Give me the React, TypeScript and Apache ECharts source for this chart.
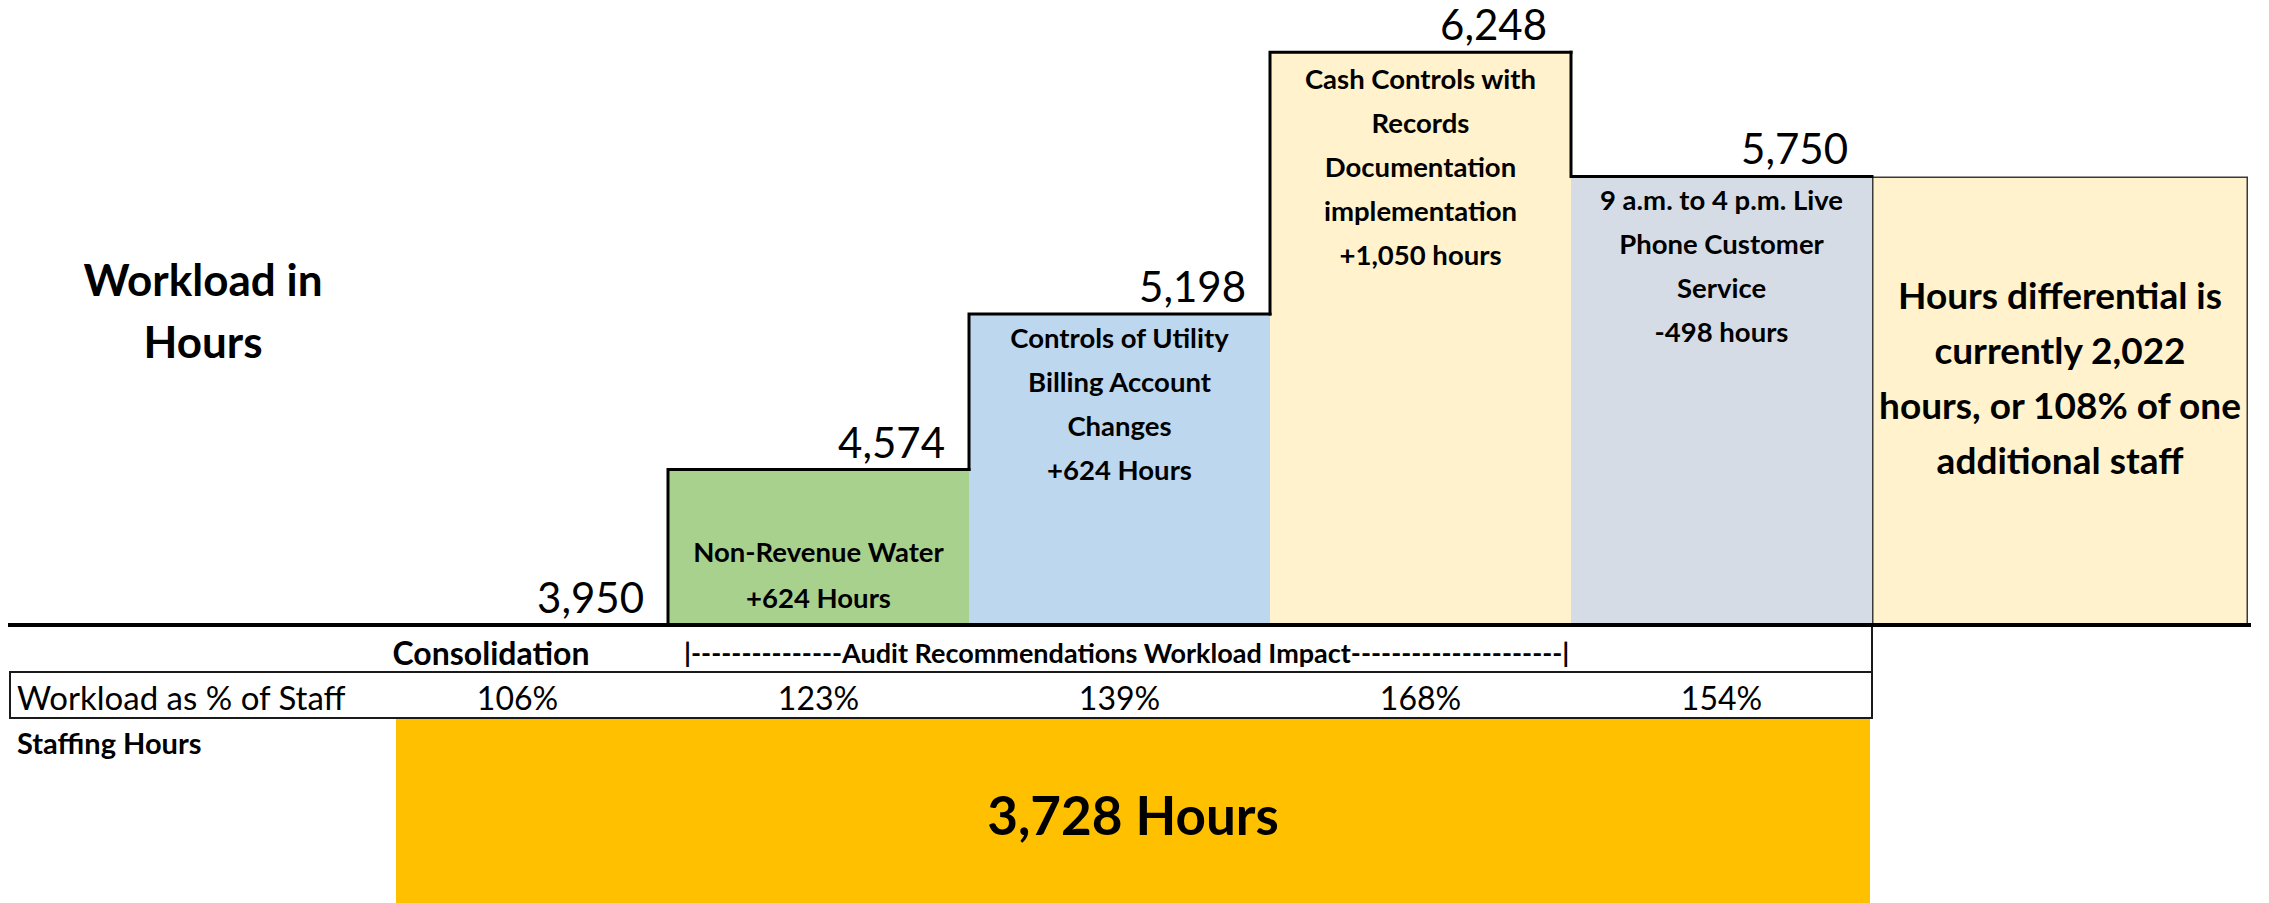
import React, { useEffect, useRef } from "react";
import * as echarts from "echarts";

// ---------- data ----------
const categories = [
  "Consolidation",
  "Non-Revenue Water",
  "Controls of Utility Billing Account Changes",
  "Cash Controls with Records Documentation implementation",
  "9 a.m. to 4 p.m. Live Phone Customer Service",
];
const workloadHours = [3950, 4574, 5198, 6248, 5750];
const barNotes = [
  "",
  "Non-Revenue Water\n+624 Hours",
  "Controls of Utility\nBilling Account\nChanges\n+624 Hours",
  "Cash Controls with\nRecords\nDocumentation\nimplementation\n+1,050 hours",
  "9 a.m. to 4 p.m. Live\nPhone Customer\nService\n-498 hours",
];
const workloadPct = ["106%", "123%", "139%", "168%", "154%"];
const differentialCategory = ["Hours differential"];
const differentialHours = [5750];
const differentialNote =
  "Hours differential is\ncurrently 2,022\nhours, or 108% of one\nadditional staff";
const staffingHours = 3728;
const headerConsolidation = "Consolidation";
const headerAudit =
  "|---------------Audit Recommendations Workload Impact---------------------|";
const rowLabel = "Workload as % of Staff";
const staffingLabel = "Staffing Hours";
const yTitle = "Workload in\nHours";

// ---------- styles ----------
const barColors = ["rgba(0,0,0,0)", "#A9D18E", "#BDD7EE", "#FFF2CC", "#D6DCE5"];
const FONT = "Lato";
const Y_MIN = 3950;
const Y_MAX = 6430;
const GRID_TOP = 7;
const GRID_BOTTOM = 278; // baseline at y = 625

const fmt = (v: number) => v.toLocaleString("en-US");

export default function App() {
  const ref = useRef<HTMLDivElement>(null);

  useEffect(() => {
    document.body.style.margin = "0";
    const chart = echarts.init(ref.current!, undefined, { renderer: "svg" });

    const barData = workloadHours.map((v, i) => ({
      value: v,
      itemStyle: { color: barColors[i] },
      label: {
        show: barNotes[i] !== "",
        formatter: barNotes[i],
        position: i === 1 ? "insideBottom" : "insideTop",
        distance: i === 1 ? 5 : i === 3 ? 4 : 1,
        lineHeight: i === 1 ? 46 : 44,
      },
    }));

    const outlineData = workloadHours.map((v, i) => [
      i,
      v,
      i === 0 ? v : workloadHours[i - 1],
    ]);

    const option: any = {
      animation: false,
      textStyle: { fontFamily: FONT },
      grid: [
        { left: 367, right: 2269 - 1872, top: GRID_TOP, bottom: GRID_BOTTOM },
        { left: 1872, right: 2269 - 2248, top: GRID_TOP, bottom: GRID_BOTTOM },
      ],
      xAxis: [
        {
          type: "category",
          gridIndex: 0,
          data: categories,
          axisLine: { show: false },
          axisTick: { show: false },
          axisLabel: {
            interval: 0,
            margin: 72,
            verticalAlign: "middle",
            fontSize: 32,
            fontFamily: FONT,
            color: "#000",
            formatter: (_v: string, i: number) => workloadPct[i],
          },
        },
        {
          type: "category",
          gridIndex: 1,
          data: differentialCategory,
          show: false,
        },
      ],
      yAxis: [
        { type: "value", gridIndex: 0, min: Y_MIN, max: Y_MAX, startValue: Y_MIN, show: false },
        { type: "value", gridIndex: 1, min: Y_MIN, max: Y_MAX, startValue: Y_MIN, show: false },
      ],
      series: [
        {
          type: "bar",
          xAxisIndex: 0,
          yAxisIndex: 0,
          barWidth: "100%",
          barCategoryGap: "0%",
          data: barData,
          z: 2,
          label: {
            show: true,
            color: "#000",
            fontFamily: FONT,
            fontWeight: "bold",
            fontSize: 27.5,
            lineHeight: 44,
          },
        },
        {
          type: "custom",
          xAxisIndex: 0,
          yAxisIndex: 0,
          z: 5,
          data: outlineData,
          encode: { x: 0, y: 1 },
          renderItem: (_params: any, api: any) => {
            const i = api.value(0) as number;
            const v = api.value(1) as number;
            const prev = api.value(2) as number;
            const top = api.coord([i, v]);
            const base = api.coord([i, prev]);
            const bw = api.size([1, 0])[0];
            const xl = top[0] - bw / 2;
            const xr = top[0] + bw / 2;
            const children: any[] = [];
            if (i > 0) {
              children.push({
                type: "polyline",
                shape: { points: [[xl, base[1]], [xl, top[1]], [xr, top[1]]] },
                style: { stroke: "#000", lineWidth: 3, fill: null, lineCap: "square", lineJoin: "miter" },
              });
            }
            children.push({
              type: "text",
              style: {
                text: fmt(v),
                x: xr - 24,
                y: top[1] - 28,
                align: "right",
                verticalAlign: "middle",
                fontFamily: FONT,
                fontSize: 42,
                lineHeight: 34,
                fill: "#000",
              },
            });
            return { type: "group", children };
          },
        },
        {
          type: "bar",
          xAxisIndex: 1,
          yAxisIndex: 1,
          barWidth: "100%",
          data: differentialHours,
          z: 2,
          itemStyle: { color: "#FFF2CC", borderColor: "#3a3a3a", borderWidth: 1.5 },
          label: {
            show: true,
            position: "inside",
            offset: [0, -24],
            formatter: differentialNote,
            color: "#000",
            fontFamily: FONT,
            fontWeight: "bold",
            fontSize: 37,
            lineHeight: 55,
          },
        },
      ],
      graphic: [
        {
          type: "text",
          z: 10,
          x: 203,
          y: 310,
          style: {
            text: yTitle,
            align: "center",
            verticalAlign: "middle",
            fontFamily: FONT,
            fontWeight: "bold",
            fontSize: 44,
            lineHeight: 62,
            fill: "#000",
          },
        },
        {
          type: "rect",
          z: 1,
          shape: { x: 396, y: 719, width: 1474, height: 184 },
          style: { fill: "#FFC000", stroke: "none" },
        },
        {
          type: "text",
          z: 10,
          x: 1133,
          y: 814,
          style: {
            text: fmt(staffingHours) + " Hours",
            align: "center",
            verticalAlign: "middle",
            fontFamily: FONT,
            fontWeight: "bold",
            fontSize: 53,
            fill: "#000",
          },
        },
        {
          type: "rect",
          z: 20,
          shape: { x: 10, y: 672, width: 1862, height: 46 },
          style: { fill: "none", stroke: "#1a1a1a", lineWidth: 2 },
        },
        {
          type: "line",
          z: 20,
          shape: { x1: 1872, y1: 625, x2: 1872, y2: 672 },
          style: { stroke: "#1a1a1a", lineWidth: 2 },
        },
        {
          type: "line",
          z: 30,
          shape: { x1: 8, y1: 625, x2: 2251, y2: 625 },
          style: { stroke: "#000", lineWidth: 4 },
        },
        {
          type: "text",
          z: 10,
          x: 491,
          y: 652,
          style: {
            text: headerConsolidation,
            align: "center",
            verticalAlign: "middle",
            fontFamily: FONT,
            fontWeight: "bold",
            fontSize: 32,
            fill: "#000",
          },
        },
        {
          type: "text",
          z: 10,
          x: 684,
          y: 652,
          style: {
            text: headerAudit,
            align: "left",
            verticalAlign: "middle",
            fontFamily: FONT,
            fontWeight: "bold",
            fontSize: 27,
            fill: "#000",
          },
        },
        {
          type: "text",
          z: 10,
          x: 17,
          y: 697,
          style: {
            text: rowLabel,
            align: "left",
            verticalAlign: "middle",
            fontFamily: FONT,
            fontSize: 33,
            fill: "#000",
          },
        },
        {
          type: "text",
          z: 10,
          x: 17,
          y: 742,
          style: {
            text: staffingLabel,
            align: "left",
            verticalAlign: "middle",
            fontFamily: FONT,
            fontWeight: "bold",
            fontSize: 29,
            fill: "#000",
          },
        },
      ],
    };

    chart.setOption(option);
    return () => chart.dispose();
  }, []);

  return (
    <div
      ref={ref}
      style={{ position: "fixed", left: 0, top: 0, width: 2269, height: 903, background: "#fff" }}
    />
  );
}
